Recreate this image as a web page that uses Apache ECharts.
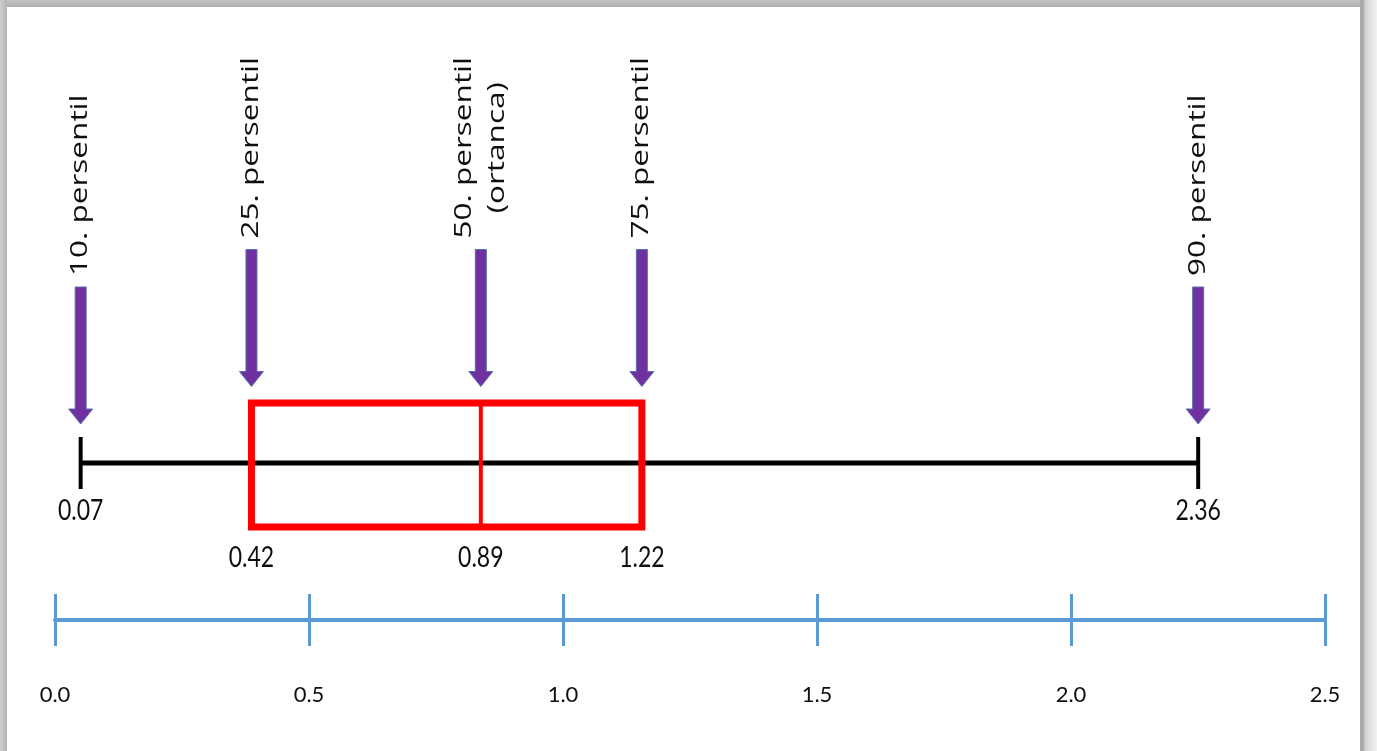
<!DOCTYPE html>
<html>
<head>
<meta charset="utf-8">
<script src="https://cdn.jsdelivr.net/npm/echarts@6/dist/echarts.min.js"></script>
<style>
  html, body { margin: 0; padding: 0; width: 1377px; height: 751px; overflow: hidden; background: #ffffff; }
  #frameTop { position: absolute; left: 0; top: 0; width: 1360px; height: 7px; background: linear-gradient(to bottom, #c4c4c4, #adadad); }
  #frameLeft { position: absolute; left: 0; top: 0; width: 7px; height: 751px; background: linear-gradient(to right, #cfcfcf, #b4b4b4); }
  #frameRight { position: absolute; left: 1360px; top: 0; width: 17px; height: 751px;
    background: linear-gradient(to right, #a9a9a9 0px, #a9a9a9 3px, #cdcdcd 5px, #dedede 9px, #e9e9e9 13px, #f2f2f2 17px); }
  #chart { position: absolute; left: 0; top: 0; width: 1377px; height: 751px; }
</style>
</head>
<body>
<div id="frameTop"></div>
<div id="frameLeft"></div>
<div id="frameRight"></div>
<div id="chart"></div>
<script>
// ---- data ----
const percentileNames = ['10. persentil', '25. persentil', '50. persentil\n(ortanca)', '75. persentil', '90. persentil'];
const percentileValues = [0.07, 0.42, 0.89, 1.22, 2.36];
const percentileValueLabels = ['0.07', '0.42', '0.89', '1.22', '2.36'];
const rulerMin = 0;
const rulerMax = 2.5;
const rulerInterval = 0.5;

// ---- styles ----
const purple = '#7030A0';
const rulerBlue = '#5B9BD5';
const boxRed = '#FF0000';
const textColor = '#0f0f0f';
const labelFontFamily = '"Open Sans", "DejaVu Sans", sans-serif';
const labelFontSize = 23;
const labelStretch = 1.37;
const numFontFamily = 'Lato, "Liberation Sans", sans-serif';

const measureCtx = document.createElement('canvas').getContext('2d');
function textWidth(t, size, family) {
  measureCtx.font = size + 'px ' + family;
  return measureCtx.measureText(t).width;
}

const chart = echarts.init(document.getElementById('chart'), null, { renderer: 'canvas' });

function renderBox(params, api) {
  const cy = api.coord([0, 0])[1];
  const xs = [0, 1, 2, 3, 4].map(i => api.coord([api.value(i), 0])[0]);
  const capHalf = 26, boxTop = cy - 60, boxBottom = cy + 64;
  return {
    type: 'group',
    children: [
      { type: 'line', shape: { x1: xs[0], y1: cy, x2: xs[4], y2: cy }, style: { stroke: '#000', lineWidth: 5 } },
      { type: 'line', shape: { x1: xs[0], y1: cy - capHalf, x2: xs[0], y2: cy + capHalf }, style: { stroke: '#000', lineWidth: 4 } },
      { type: 'line', shape: { x1: xs[4], y1: cy - capHalf, x2: xs[4], y2: cy + capHalf }, style: { stroke: '#000', lineWidth: 4 } },
      { type: 'rect', shape: { x: xs[1], y: boxTop, width: xs[3] - xs[1], height: boxBottom - boxTop },
        style: { stroke: boxRed, lineWidth: 7, fill: null } },
      { type: 'line', shape: { x1: xs[2], y1: boxTop, x2: xs[2], y2: boxBottom }, style: { stroke: boxRed, lineWidth: 4 } }
    ]
  };
}

function renderMarker(params, api) {
  const v = api.value(0);
  const idx = params.dataIndex;
  const cy = api.coord([0, 0])[1];
  const x = api.coord([v, 0])[0];
  const inBox = v >= percentileValues[1] && v <= percentileValues[3];
  const target = inBox ? cy - 63.5 : cy - 26;
  const tip = target - 13;
  const len = 137, headH = 15, headW = 12, shaftW = 5.5;
  const top = tip - len;
  const name = percentileNames[idx];
  const lines = name.split('\n');
  const maxW = Math.max.apply(null, lines.map(l => textWidth(l, labelFontSize, labelFontFamily)));
  const bottom = top - 11;
  const centerY = bottom - maxW * labelStretch / 2;
  const numY = inBox ? cy + 95 : cy + 48;
  return {
    type: 'group',
    children: [
      { type: 'polygon',
        shape: { points: [[x - shaftW, top], [x + shaftW, top], [x + shaftW, tip - headH], [x + headW, tip - headH],
                          [x, tip], [x - headW, tip - headH], [x - shaftW, tip - headH]] },
        style: { fill: purple, stroke: '#5570B0', lineWidth: 1 } },
      { type: 'text', x: x, y: centerY, rotation: Math.PI / 2, scaleX: labelStretch,
        style: { text: name, x: 0, y: 0, align: 'center', verticalAlign: 'middle',
                 fontSize: labelFontSize, fontFamily: labelFontFamily, lineHeight: 33, fill: textColor } },
      { type: 'text', x: x, y: numY, scaleY: 1.25,
        style: { text: percentileValueLabels[idx], x: 0, y: 0, align: 'center', verticalAlign: 'middle',
                 fontSize: 23, fontFamily: numFontFamily, fill: textColor } }
    ]
  };
}

const option = {
  animation: false,
  grid: [
    { left: 46.5, right: 110.5, top: 363, height: 200 },
    { left: 55, right: 52, top: 594, height: 52 }
  ],
  xAxis: [
    { gridIndex: 0, type: 'value', min: rulerMin, max: rulerMax, show: false },
    { gridIndex: 1, type: 'value', min: rulerMin, max: rulerMax, interval: rulerInterval, offset: -26,
      axisLine: { show: true, lineStyle: { color: rulerBlue, width: 4 } },
      axisTick: { show: false },
      splitLine: { show: true, lineStyle: { color: rulerBlue, width: 3 } },
      axisLabel: { show: true, margin: 64, color: textColor, fontFamily: numFontFamily, fontSize: 22,
                   formatter: v => v.toFixed(1) } }
  ],
  yAxis: [
    { gridIndex: 0, type: 'value', min: -1, max: 1, show: false },
    { gridIndex: 1, type: 'value', min: 0, max: 1, show: false }
  ],
  series: [
    { type: 'custom', name: 'box', xAxisIndex: 0, yAxisIndex: 0, renderItem: renderBox,
      data: [percentileValues], encode: { x: 0 }, silent: true },
    { type: 'custom', name: 'percentiles', xAxisIndex: 0, yAxisIndex: 0, renderItem: renderMarker,
      data: percentileValues.map(v => [v]), encode: { x: 0 }, silent: true }
  ]
};
chart.setOption(option);
</script>
</body>
</html>
